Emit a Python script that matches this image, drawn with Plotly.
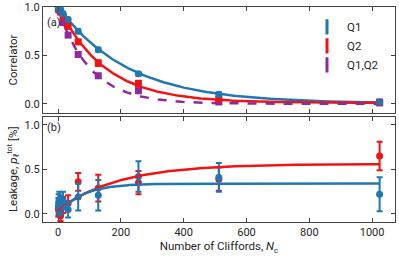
import numpy as np
import plotly.graph_objects as go
from plotly.subplots import make_subplots

# ---- data ----
n_cliffords = [1, 2, 4, 8, 16, 32, 64, 128, 256, 512, 1024]

corr_q1 = [1.00, 0.99, 0.99, 0.97, 0.93, 0.87, 0.75, 0.56, 0.31, 0.10, 0.02]
corr_q1_err = [0.02, 0.02, 0.02, 0.02, 0.02, 0.02, 0.02, 0.02, 0.02, 0.02, 0.02]
corr_q2 = [0.99, 0.99, 0.98, 0.95, 0.90, 0.80, 0.64, 0.42, 0.21, 0.05, 0.02]
corr_q2_err = [0.02, 0.02, 0.02, 0.02, 0.02, 0.02, 0.02, 0.03, 0.03, 0.02, 0.02]
corr_q12 = [0.98, 0.98, 0.97, 0.95, 0.84, 0.71, 0.51, 0.29, 0.135, 0.02, 0.01]
corr_q12_err = [0.02, 0.02, 0.02, 0.02, 0.02, 0.02, 0.02, 0.02, 0.02, 0.02, 0.02]

leak_q1 = [0.08, 0.12, 0.16, 0.10, 0.15, 0.05, 0.19, 0.21, 0.42, 0.41, 0.22]
leak_q1_err = [0.10, 0.10, 0.09, 0.10, 0.10, 0.09, 0.15, 0.17, 0.17, 0.16, 0.19]
leak_q2 = [0.05, 0.08, 0.10, -0.02, 0.10, 0.12, 0.36, 0.29, 0.35, 0.39, 0.65]
leak_q2_err = [0.08, 0.08, 0.08, 0.06, 0.09, 0.09, 0.10, 0.15, 0.13, 0.13, 0.16]

# fit parameters (exponential models)
fit_corr = {"Q1": (1.0, 0.99548, 0.005), "Q2": (1.0, 0.99324, 0.01), "Q1,Q2": (0.98, 0.9904, 0.0)}
fit_leak = {"Q1": (0.0, 0.34, 75.0), "Q2": (0.04, 0.52, 190.0)}

BLUE = "#1f77b4"
RED = "#f21414"
PURPLE = "#8e2a9c"
TXT = "#262626"

x_ticks = [0, 200, 400, 600, 800, 1000]

fig = make_subplots(rows=2, cols=1, shared_xaxes=True, vertical_spacing=0.0)
fig.update_layout(
    xaxis=dict(domain=[0, 1], anchor="y"),
    yaxis=dict(domain=[0.507, 1.0]),
    xaxis2=dict(domain=[0, 1], anchor="y2"),
    yaxis2=dict(domain=[0.0, 0.490]),
)

nfit = np.linspace(0, 1024, 300)

def corr_model(A, p, B):
    return A * p ** nfit + B

def leak_model(L0, L, tau):
    return L0 + L * (1 - np.exp(-nfit / tau))

# top panel fits
fig.add_trace(go.Scatter(x=nfit, y=corr_model(*fit_corr["Q1"]), mode="lines",
                         line=dict(color=BLUE, width=2.5), showlegend=False), row=1, col=1)
fig.add_trace(go.Scatter(x=nfit, y=corr_model(*fit_corr["Q2"]), mode="lines",
                         line=dict(color=RED, width=2.5), showlegend=False), row=1, col=1)
fig.add_trace(go.Scatter(x=nfit, y=corr_model(*fit_corr["Q1,Q2"]), mode="lines",
                         line=dict(color=PURPLE, width=2.5, dash="dash"), showlegend=False), row=1, col=1)

# top panel data
for y, e, c, sym in [(corr_q12, corr_q12_err, PURPLE, "square"),
                     (corr_q2, corr_q2_err, RED, "square"),
                     (corr_q1, corr_q1_err, BLUE, "circle")]:
    fig.add_trace(go.Scatter(x=n_cliffords, y=y, mode="markers",
                             marker=dict(color=c, size=7, symbol=sym),
                             error_y=dict(type="data", array=e, color=c, thickness=2, width=3),
                             showlegend=False), row=1, col=1)

# bottom panel data
fig.add_trace(go.Scatter(x=n_cliffords, y=leak_q2, mode="markers",
                         marker=dict(color=RED, size=7),
                         error_y=dict(type="data", array=leak_q2_err, color=RED, thickness=2, width=3),
                         showlegend=False), row=2, col=1)
fig.add_trace(go.Scatter(x=n_cliffords, y=leak_q1, mode="markers",
                         marker=dict(color=BLUE, size=7),
                         error_y=dict(type="data", array=leak_q1_err, color=BLUE, thickness=2, width=3),
                         showlegend=False), row=2, col=1)
fig.add_trace(go.Scatter(x=nfit, y=leak_model(*fit_leak["Q2"]), mode="lines",
                         line=dict(color=RED, width=2.5), showlegend=False), row=2, col=1)
fig.add_trace(go.Scatter(x=nfit, y=leak_model(*fit_leak["Q1"]), mode="lines",
                         line=dict(color=BLUE, width=2.5), showlegend=False), row=2, col=1)

# legend entries
for name, c in [("Q1", BLUE), ("Q2", RED), ("Q1,Q2", PURPLE)]:
    fig.add_trace(go.Scatter(x=[None], y=[None], mode="markers", name=name,
                             marker=dict(color=c, size=11, symbol="line-ns-open",
                                         line=dict(color=c, width=3))), row=1, col=1)

axis_common = dict(showline=True, linecolor="#444", linewidth=1, mirror="ticks",
                   ticks="inside", ticklen=4, tickcolor="#444", showgrid=False,
                   zeroline=False, automargin=True, tickfont=dict(size=11, color=TXT))

fig.update_xaxes(range=[-48, 1073], tickvals=x_ticks, **axis_common)
fig.update_xaxes(showticklabels=False, row=1, col=1)
fig.update_xaxes(title=dict(text="Number of Cliffords, <i>N</i><sub>c</sub>",
                            font=dict(size=11.5, color=TXT), standoff=3), row=2, col=1)
fig.update_yaxes(range=[-0.094, 1.0], tickvals=[0, 0.5, 1.0], ticktext=["0.0", "0.5", "1.0"],
                 title=dict(text="Correlator", font=dict(size=11.5, color=TXT), standoff=4),
                 row=1, col=1, **axis_common)
fig.update_yaxes(range=[-0.09, 1.09], tickvals=[0, 0.5, 1.0], ticktext=["0.0", "0.5", "1.0"],
                 title=dict(text="Leakage, <i>p</i><sub>ℓ</sub><sup>tot</sup> [%]",
                            font=dict(size=11.5, color=TXT), standoff=4),
                 row=2, col=1, **axis_common)

fig.add_annotation(text="(a)", xref="paper", yref="paper", x=0.005, y=0.93,
                   xanchor="left", yanchor="middle", showarrow=False,
                   font=dict(size=11, color=TXT))
fig.add_annotation(text="(b)", xref="paper", yref="paper", x=0.005, y=0.44,
                   xanchor="left", yanchor="middle", showarrow=False,
                   font=dict(size=11, color=TXT))

fig.update_layout(
    width=399, height=258,
    margin=dict(l=43, r=4, t=7, b=36, autoexpand=False),
    paper_bgcolor="white", plot_bgcolor="white",
    font=dict(family="Roboto, sans-serif", size=11, color=TXT),
    legend=dict(x=0.75, y=0.975, xanchor="left", yanchor="top",
                bgcolor="rgba(0,0,0,0)", font=dict(size=11.5), tracegroupgap=0),
)

fig.write_html("out.html", config={"displayModeBar": False},
               post_script="document.body.style.margin='0px';")
